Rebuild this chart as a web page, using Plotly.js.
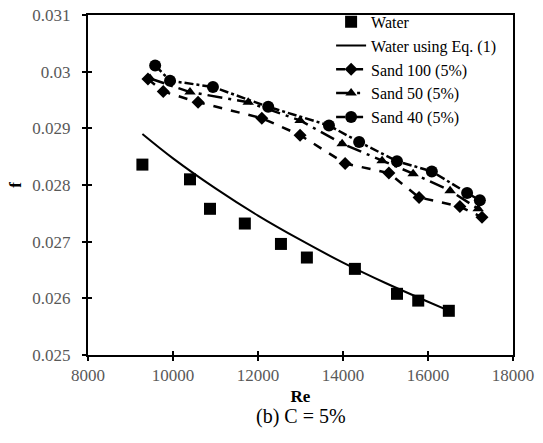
<!DOCTYPE html>
<html>
<head>
<meta charset="utf-8">
<script src="https://cdn.plot.ly/plotly-3.0.1.min.js"></script>
<style>html,body{margin:0;padding:0;background:#fff;}#chart{width:543px;height:443px;}</style>
</head>
<body>
<div id="chart"></div>
<script>
const waterRe = [9280, 10400, 10870, 11690, 12540, 13150, 14280, 15270, 15770, 16490];
const waterF  = [0.02836, 0.0281, 0.02758, 0.02732, 0.02696, 0.02672, 0.02652, 0.02608, 0.02596, 0.02578];

const eqRe = [9280, 10000, 11000, 12000, 13000, 14000, 15000, 16000, 16500];
const eqF  = [0.0289, 0.02847, 0.02794, 0.02746, 0.02703, 0.02663, 0.02627, 0.02594, 0.02578];

const sand100Re = [9410, 9770, 10590, 12090, 12990, 14050, 15080, 15790, 16750, 17270];
const sand100F  = [0.02987, 0.02965, 0.02946, 0.02918, 0.02888, 0.02838, 0.02821, 0.02778, 0.02762, 0.02743];

const sand50Re = [9460, 10400, 11770, 12990, 13980, 14920, 15650, 16520, 17180];
const sand50F  = [0.02988, 0.02964, 0.02946, 0.02914, 0.02873, 0.02843, 0.0282, 0.0279, 0.02758];

const sand40Re = [9580, 9930, 10940, 12240, 13670, 14380, 15270, 16090, 16920, 17220];
const sand40F  = [0.03011, 0.02984, 0.02973, 0.02938, 0.02905, 0.02876, 0.02842, 0.02824, 0.02786, 0.02773];

const xTicks = [8000, 10000, 12000, 14000, 16000, 18000];
const yTicks = [0.025, 0.026, 0.027, 0.028, 0.029, 0.03, 0.031];
const yTickText = ['0.025', '0.026', '0.027', '0.028', '0.029', '0.03', '0.031'];

const font = 'Liberation Serif, DejaVu Serif, serif';

const traces = [
  {x: waterRe, y: waterF, name: 'Water', mode: 'markers', type: 'scatter',
   marker: {symbol: 'square', size: 12, color: '#000'}},
  {x: eqRe, y: eqF, name: 'Water using Eq. (1)', mode: 'lines', type: 'scatter',
   line: {color: '#000', width: 2, shape: 'spline'}},
  {x: sand100Re, y: sand100F, name: 'Sand 100 (5%)', mode: 'lines+markers', type: 'scatter',
   line: {color: '#000', width: 2.5, dash: 'dash'},
   marker: {symbol: 'diamond', size: 10, color: '#000'}},
  {x: sand50Re, y: sand50F, name: 'Sand 50 (5%)', mode: 'lines+markers', type: 'scatter',
   line: {color: '#000', width: 2.5, dash: 'longdashdot'},
   marker: {symbol: 'triangle-up', size: 10, color: '#000'}},
  {x: sand40Re, y: sand40F, name: 'Sand 40 (5%)', mode: 'lines+markers', type: 'scatter',
   line: {color: '#000', width: 2.5, dash: 'dashdot'},
   marker: {symbol: 'circle', size: 12, color: '#000'}}
];

const layout = {
  width: 543, height: 443,
  margin: {l: 88, r: 30, t: 15, b: 88, autoexpand: false},
  paper_bgcolor: '#fff', plot_bgcolor: '#fff',
  font: {family: font, color: '#000', size: 17, weight: 'normal'},
  showlegend: true,
  legend: {x: 0.572, y: 1.03, xanchor: 'left', yanchor: 'top',
           bgcolor: 'rgba(255,255,255,0)', borderwidth: 0,
           font: {family: font, size: 16, color: '#000', weight: 'normal'}, tracegroupgap: 0},
  xaxis: {range: [8000, 18000], tickvals: xTicks, ticktext: xTicks.map(String),
          showgrid: false, zeroline: false, showline: true, linecolor: '#000', linewidth: 2,
          mirror: true, ticks: 'outside', ticklen: 4, tickwidth: 2, tickcolor: '#000',
          tickfont: {family: font, size: 17, color: '#595959', weight: 'normal'},
          title: {text: 'Re', font: {family: font, size: 17, color: '#000', weight: 'bold'}, standoff: 6}},
  yaxis: {range: [0.025, 0.031], tickvals: yTicks, ticktext: yTickText,
          showgrid: false, zeroline: false, showline: true, linecolor: '#000', linewidth: 2,
          mirror: true, ticks: 'outside', ticklen: 4, tickwidth: 2, tickcolor: '#000',
          tickfont: {family: font, size: 17, color: '#595959', weight: 'normal'}, ticklabelstandoff: 8,
          title: {text: 'f', font: {family: font, size: 17, color: '#000', weight: 'bold'}, standoff: 6}},
  xaxis2: {range: [8000, 18000], tickvals: xTicks, overlaying: 'x', anchor: 'y', side: 'bottom',
           showgrid: false, zeroline: false, showline: false, ticks: 'inside', ticklen: 4,
           tickwidth: 2, tickcolor: '#000', showticklabels: false},
  yaxis2: {range: [0.025, 0.031], tickvals: yTicks, overlaying: 'y', anchor: 'x', side: 'left',
           showgrid: false, zeroline: false, showline: false, ticks: 'inside', ticklen: 4,
           tickwidth: 2, tickcolor: '#000', showticklabels: false},
  annotations: [{text: '(b) C = 5%', xref: 'paper', yref: 'paper', x: 0.5, y: -0.14,
                 xanchor: 'center', yanchor: 'top', showarrow: false,
                 font: {family: font, size: 20, color: '#000', weight: 'normal'}}]
};

traces.push({x: [8000], y: [0.025], xaxis: 'x2', yaxis: 'y2', mode: 'markers',
             marker: {opacity: 0}, showlegend: false, hoverinfo: 'skip', type: 'scatter'});

Plotly.newPlot('chart', traces, layout, {displayModeBar: false, staticPlot: true});
</script>
</body>
</html>
